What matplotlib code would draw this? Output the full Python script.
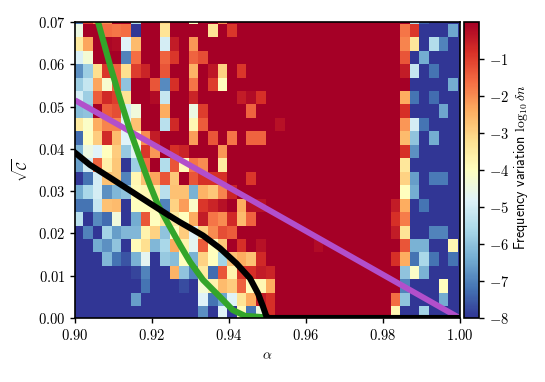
import numpy as np
import matplotlib
matplotlib.use("Agg")
import matplotlib.pyplot as plt

plt.rcParams["mathtext.fontset"] = "cm"

# log10 of the frequency variation, rows listed top to bottom
# left block: alpha columns 0-20
delta_left = [
    [-7.2, -1.0, -2.0, -2.0, 0, 0, -5.5, 0, 0, -3.0, 0, 0, -4.0, 0, 0, -2.0, 0, 0, 0, 0, 0],
    [-4.5, 0, 0, -1.6, -1.7, -1.6, -8, 0, 0, -3.3, 0, 0, 0, 0, -3.3, 0, -0.9, 0, 0, 0, 0],
    [-3.5, -2.3, 0, -0.1, -0.2, -4.8, -2.6, 0, 0, -5.0, -0.5, 0, -2.1, 0, 0, 0, 0, 0, 0, 0, 0],
    [-4.9, -4.3, 0, 0, 0, -7.0, -1.6, 0, 0, -1.5, -0.9, 0, -1.5, -1.2, 0, 0, 0, 0, 0, 0, 0],
    [-6.8, -5.8, -3.2, -0.9, -1.5, -3.2, -1.0, -0.6, 0, -1.3, 0, 0, -2.5, 0, -0.4, -3.0, 0, -0.9, 0, 0, 0],
    [-5.8, -5.2, -2.3, -4.2, -1.5, -6.0, 0, 0, -1.3, -6.9, -0.8, 0, -1.7, 0, -1.0, -4.0, 0, 0, 0, 0, 0],
    [-5.0, -5.8, -1.4, -0.7, -1.0, -3.3, 0, 0, -0.2, -5.2, 0, 0, -0.6, 0, 0, 0, 0, -0.5, -0.2, -0.8, 0],
    [-6.1, -6.0, 0, -1.4, -1.2, -5.0, -4.4, 0, 0, -2.4, 0, 0, -4.5, -1.0, 0, 0, 0, 0, -1.5, 0, 0],
    [-3.5, -4.1, -2.4, -1.9, -1.9, -4.8, -2.7, 0, 0, -5.4, -0.7, 0, -3.8, -1.4, 0, 0, 0, 0, 0, 0, 0],
    [-7.3, -4.0, -2.9, -0.7, -2.6, -4.8, -4.0, -2.0, -0.5, 0, 0, 0, -2.2, 0, -1.3, 0, -1.7, 0, -1.5, -1.5, 0],
    [-6.2, -4.5, -4.8, -4.0, -2.9, -5.9, -4.7, -0.9, -2.1, 0, -0.8, -0.6, 0, 0, 0, -2.1, 0, 0, 0, 0, 0],
    [-6.6, -5.0, -1.5, -3.6, -2.8, -8, -5.8, -1.6, 0, -5.5, -1.3, -3.9, -1.7, -2.0, 0, -3.5, 0, 0, 0, 0, 0],
    [-8, -7.2, -5.0, -2.7, -2.8, -7.0, -3.8, -2.7, -2.3, -1.3, -2.8, 0, -1.3, -0.8, -0.8, -0.8, 0, 0, -0.9, 0, 0],
    [-6.4, -5.6, -5.0, -6.8, -6.2, -6.0, -3.9, -3.8, -3.5, -5.4, -2.7, -2.7, -6.3, -2.5, -2.8, -1.9, -0.6, 0, 0, 0, 0],
    [-7.2, -7.2, -5.2, -2.7, -2.6, -8, -4.0, -4.0, -3.9, -7.0, -3.0, -2.2, -4.1, -0.9, -0.6, -0.3, 0, -2.4, -0.3, -0.3, 0],
    [-5.4, -8, -6.9, -7.3, -4.4, -8, -6.4, -1.3, -4.0, -3.4, -3.5, -4.0, -2.4, -0.5, -1.7, -2.0, -0.7, -2.6, -1.5, 0, 0],
    [-8, -7.0, -8, -5.7, -6.6, -6.2, -6.2, -3.7, -3.0, -6.0, -4.0, -2.9, -4.8, -3.0, -2.0, -1.2, -1.4, 0, 0, 0, 0],
    [-8, -8, -6.4, -6.8, -6.0, -8, -3.9, -3.2, -6.2, -5.6, -2.4, -3.7, -4.7, -1.4, -4.0, -2.8, 0, -0.8, 0, -0.3, 0],
    [-8, -8, -8, -6.2, -7.2, -7.6, -6.3, -4.7, -8, -5.9, -6.1, -4.0, -6.3, -3.0, -4.0, -5.7, -2.7, -2.4, -2.7, -0.7, 0],
    [-8, -8, -8, -8, -8, -8, -7.8, -7.0, -8, -8, -2.5, -6.0, -7.0, -3.5, -7.3, -1.3, -3.7, -0.9, -0.8, -0.5, -0.6],
    [-8, -8, -8, -8, -8, -8, -8, -7.2, -8, -8, -8, -7.7, -8, -4.3, -3.7, -2.6, -2.9, -1.5, -4.0, -3.8, -2.4],
    [-8, -8, -8, -8, -8, -8, -6.6, -8, -8, -8, -8, -8, -8, -4.8, -7.2, -6.5, -4.8, -3.3, -2.4, -0.5, -0.8],
    [-8, -8, -8, -8, -8, -8, -8, -8, -8, -8, -8, -8, -8, -6.8, -8, -4.8, -8, -3.9, -7.2, -4.5, -0.8],
]

# right block: alpha columns 33-40
delta_right = [
    [0, 0, -5.5, -7.5, -8, -8, -8, -8],
    [0, -1.7, -0.9, -8, -8, -8, -6.5, -8],
    [0, -1.9, -3.4, -8, -5.5, -7.0, -8, -8],
    [0, -1.3, -8, -6.4, -8, -8, -8, -8],
    [0, -0.5, -5.2, -8, -7.2, -8, -8, -8],
    [0, 0, -8, -8, -8, -8, -6.4, -8],
    [0, -2.4, -7.2, -8, -7.3, -8, -8, -8],
    [0, -0.8, -8, -8, -8, -6.5, -8, -8],
    [0, -2.1, -5.0, -7.2, -8, -8, -8, -8],
    [0, -2.6, -6.0, -8, -6.4, -8, -8, -8],
    [0, -0.8, -6.8, -8, -8, -8, -8, -8],
    [0, -3.4, -8, -8, -8, -8, -8, -8],
    [0, -3.0, -6.6, -8, -7.1, -7.1, -8, -8],
    [0, -4.0, -6.4, -8, -8, -8, -8, -8],
    [-0.5, -2.4, -8, -7.2, -8, -8, -8, -8],
    [-0.8, -1.8, -8, -8, -8, -8, -8, -8],
    [-0.5, -3.3, -8, -8, -7.0, -7.0, -8, -8],
    [0, -1.3, -6.3, -6.3, -8, -8, -3.8, -8],
    [-0.8, -2.4, -7.2, -5.6, -7.2, -8, -7.2, -8],
    [0, -6.0, -4.1, -6.3, -8, -8, -8, -8],
    [0, -7.0, -8, -8, -8, -4.0, -8, -8],
    [-1.6, -6.0, -8, -8, -8, -6.4, -8, -8],
    [-3.8, -8, -8, -5.7, -8, -8, -8, -8],
]

# (row, column, value) for the few marks inside the saturated band
faint_cells = [(8, 21, -0.3), (17, 25, -0.2)]

black_alpha = [0.90, 0.9039, 0.9091, 0.9143, 0.9195, 0.9247, 0.9273, 0.9299, 0.9333, 0.9377, 0.9420, 0.9455, 0.9476, 0.9489, 0.9498, 0.9505, 1.0]
black_c = [0.0391, 0.0362, 0.0332, 0.03015, 0.0271, 0.0241, 0.02265, 0.0213, 0.0195, 0.0165, 0.0129, 0.0094, 0.0058, 0.0027, 0.0003, 0.0, 0.0]

purple_alpha = [0.90, 1.0]
purple_c = [0.0515, 0.0]

green_alpha = [0.9060, 0.9091, 0.9117, 0.9143, 0.9169, 0.9195, 0.9216, 0.9244, 0.9273, 0.9299, 0.9333, 0.9377, 0.9410, 0.9442, 0.9488]
green_c = [0.07, 0.0598, 0.0519, 0.0444, 0.0378, 0.0314, 0.0267, 0.0220, 0.0173, 0.0133, 0.0090, 0.0050, 0.0019, 0.0005, 0.0002]

n_rows = len(delta_left)
grid = np.zeros((n_rows, 41))
grid[:, :21] = delta_left
grid[:, 33:] = delta_right
for row, col, val in faint_cells:
    grid[row, col] = val

alpha_edges = 0.89958 + 0.0025 * np.arange(42)
c_edges = -0.00041 + 0.07 / 22 * np.arange(n_rows + 1)

fig = plt.figure(figsize=(5.45, 3.82), dpi=100)
ax = fig.add_axes([75 / 545, 1 - 318 / 382, 384.5 / 545, 296 / 382])
cax = fig.add_axes([463.5 / 545, 1 - 318 / 382, 15.5 / 545, 296 / 382])

mesh = ax.pcolormesh(alpha_edges, c_edges, grid[::-1], cmap="RdYlBu_r", vmin=-8, vmax=0)
ax.plot(purple_alpha, purple_c, color="#b24fcb", lw=4.2, solid_capstyle="butt")
ax.plot(green_alpha, green_c, color="#33a52a", lw=4.4, solid_joinstyle="round")
ax.plot(black_alpha, black_c, color="black", lw=4.4, solid_joinstyle="round")

ax.set_xlim(0.90, 1.00)
ax.set_ylim(0, 0.07)
ax.set_xticks(np.arange(0.90, 1.001, 0.02))
ax.set_xticklabels([f"${v:.2f}$" for v in np.arange(0.90, 1.001, 0.02)], fontsize=10.5)
ax.set_yticks(np.arange(0, 0.071, 0.01))
ax.set_yticklabels([f"${v:.2f}$" for v in np.arange(0, 0.071, 0.01)], fontsize=10.5)
ax.set_xlabel(r"$\alpha$", fontsize=10)
ax.set_ylabel(r"$\sqrt{\mathcal{C}}$", fontsize=10, labelpad=5)
for spine in ax.spines.values():
    spine.set_linewidth(1.2)
ax.tick_params(width=1.0, length=3.5)

cb = fig.colorbar(mesh, cax=cax)
cb.set_ticks(np.arange(-8, 0))
cb.set_ticklabels([f"$-{abs(v)}$" for v in range(-8, 0)], fontsize=10.5)
cb.set_label(r"Frequency variation $\log_{10}\delta n$", fontsize=10, family="cmss10", labelpad=2, y=0.51)
cb.outline.set_linewidth(1.2)
cax.tick_params(width=1.0, length=3.5)

fig.savefig("out.png", dpi=100)
